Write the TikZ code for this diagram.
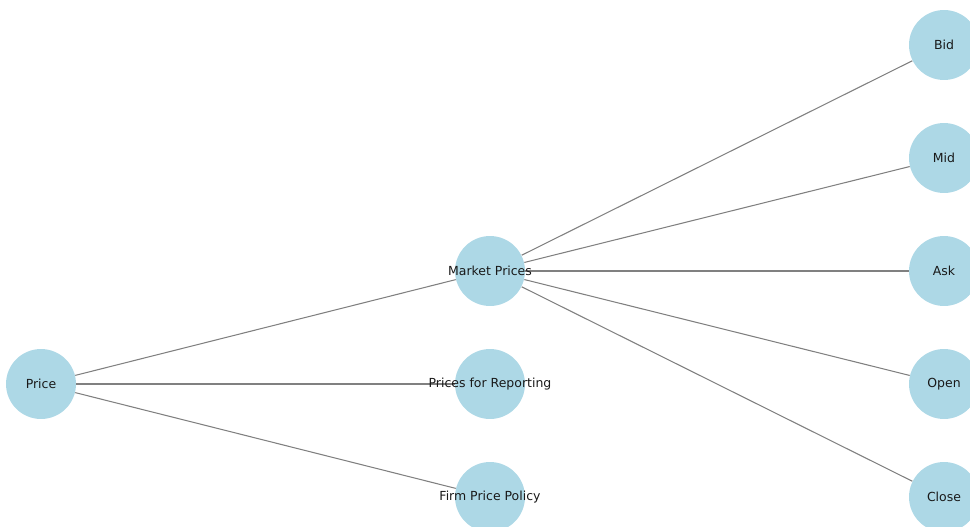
\documentclass[tikz,border=0pt]{standalone}
\usepackage{fontspec}
\setmainfont{DejaVu Sans}
\usetikzlibrary{backgrounds}
\definecolor{nodeblue}{HTML}{ADD8E6}
\tikzset{
	bubble/.style={circle, fill=nodeblue, minimum size=1.4cm, inner sep=0pt},
	link/.style={draw=gray, line width=0.6pt},
}
\begin{document}
\begin{tikzpicture}[x=0.02cm, y=-0.02cm, every label/.append style={font=\fontsize{7.1pt}{8pt}\selectfont, text=black!90}]
	\useasboundingbox (0,0) rectangle (970,527);
	\clip (0,0) rectangle (970,527);
	
	\node[bubble, label=center:Price] (price) at (41,384) {};
	
		\node[bubble, label=center:Market Prices] (market) at (490,271) {};
		\node[bubble, label=center:Prices for Reporting] (report) at (490,384) {};
		\node[bubble, label=center:Firm Price Policy] (firm) at (490,497) {};
	
			\node[bubble, label=center:Bid] (bid) at (944,45) {};
			\node[bubble, label=center:Mid] (mid) at (944,158) {};
			\node[bubble, label=center:Ask] (ask) at (944,271) {};
			\node[bubble, label=center:Open] (open) at (944,384) {};
			\node[bubble, label=center:Close] (close) at (944,497) {};
	
	\begin{scope}[on background layer]
		\foreach \b in {market,report,firm} \draw[link] (price) -- (\b);
		\foreach \b in {bid,mid,ask,open,close} \draw[link] (market) -- (\b);
	\end{scope}
\end{tikzpicture}
\end{document}
